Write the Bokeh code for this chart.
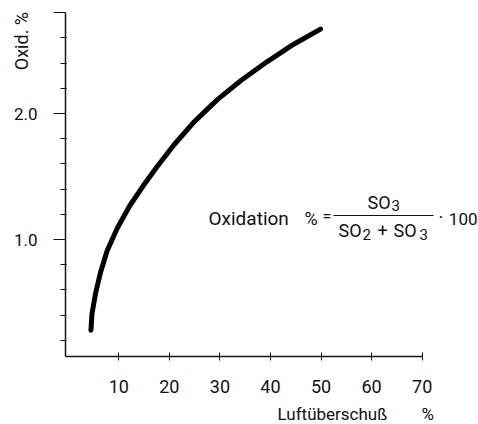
from bokeh.plotting import figure
from bokeh.models import Range1d, FixedTicker, Label
from bokeh.embed import file_html
from bokeh.resources import INLINE

# ---- data ----
luftueberschuss = [4.5, 4.7, 5.4, 6.4, 7.7, 9.7, 12.2, 14.9, 17.6, 20.9, 24.8, 29.5, 34.1, 39.3, 44.6, 49.9]
oxidation = [0.28, 0.41, 0.57, 0.74, 0.91, 1.09, 1.27, 1.43, 1.58, 1.75, 1.93, 2.11, 2.26, 2.41, 2.55, 2.67]
x_ticks = [10, 20, 30, 40, 50, 60, 70]
y_major = [1.0, 2.0, 2.8]
y_minor = [0.2, 0.4, 0.6, 0.8, 1.2, 1.4, 1.6, 1.8, 2.2, 2.4, 2.6]
y_labels = {1.0: "1.0", 2.0: "2.0", 2.8: ""}

# ---- layout (pixels) ----
W, H = 478, 424
AX_X, AX_Y = 65, 356   # pixel position of the y axis line and x axis line
X0, XS = 67.7, 5.057   # pixel of x=0, px per unit
Y0, YS = 365.0, 126.0  # pixel of y=0, px per unit
SHIFT = 7              # correction of the rendered baseline

def dx(px):
    return (px - X0) / XS

def dy(py):
    return (Y0 - py) / YS

FONT = "Roboto"
INK = "#111111"

p = figure(width=W, height=H, output_backend="svg", toolbar_location=None,
           x_range=Range1d(dx(0), dx(W)), y_range=Range1d(dy(H), dy(0)),
           min_border_left=0, min_border_right=0, min_border_top=0,
           min_border_bottom=0)
p.title.visible = False
p.outline_line_color = None
p.xgrid.visible = False
p.ygrid.visible = False
p.background_fill_color = "white"
p.border_fill_color = "white"

# x axis
xa = p.xaxis[0]
xa.fixed_location = dy(AX_Y)
xa.bounds = (dx(AX_X), 70)
xa.ticker = FixedTicker(ticks=x_ticks)
xa.minor_tick_line_color = None
xa.major_tick_in = 4
xa.major_tick_out = 4
xa.major_label_standoff = 19
xa.major_label_text_font = FONT
xa.major_label_text_font_size = "18px"
xa.major_label_text_color = INK
xa.axis_line_width = 1.5
xa.axis_line_color = INK
xa.major_tick_line_color = INK

# y axis
ya = p.yaxis[0]
ya.fixed_location = dx(AX_X)
ya.bounds = (dy(AX_Y), 2.8)
ya.ticker = FixedTicker(ticks=y_major, minor_ticks=y_minor)
ya.major_label_overrides = y_labels
ya.major_tick_in = 0
ya.major_tick_out = 12
ya.minor_tick_in = 1
ya.minor_tick_out = 5
ya.major_label_standoff = 16
ya.major_label_text_font = FONT
ya.major_label_text_font_size = "17px"
ya.major_label_text_color = INK
ya.axis_line_width = 1.5
ya.axis_line_color = INK
ya.major_tick_line_color = INK
ya.minor_tick_line_color = INK

# curve
p.line(luftueberschuss, oxidation, line_width=5, line_color="black", line_cap="round",
       line_join="round")

def lab(text, px, py, size="18px", align="left", angle=0.0):
    if angle:
        px -= SHIFT
    else:
        py -= SHIFT
    p.add_layout(Label(x=dx(px), y=dy(py), text=text, text_font=FONT,
                       text_font_size=size, text_color=INK, text_align=align,
                       text_baseline="alphabetic", angle=angle))

# axis titles
lab("Oxid.  %", 28, 7, size="18px", align="right", angle=1.5708)
lab("Luftüberschuß", 277, 420, size="17px")
lab("%", 421, 420, size="17px")

# formula
lab("Oxidation", 208, 225, size="19px")
lab("%", 304, 225, size="18px")
lab("=", 322, 223, size="16px")
lab("SO", 367, 209, size="18px")
lab("3", 391, 212, size="15px")
lab("SO", 338, 237, size="18px")
lab("2", 362, 241, size="15px")
lab("+", 377, 237, size="18px")
lab("SO", 393, 237, size="18px")
lab("3", 419, 241, size="15px")
lab("·", 438, 224, size="18px")
lab("100", 477, 225, size="17px", align="right")
p.segment(x0=[dx(333)], y0=[dy(215)], x1=[dx(433)], y1=[dy(215)],
          line_color=INK, line_width=1.2)

open("out.html", "w").write(file_html(p, INLINE))
